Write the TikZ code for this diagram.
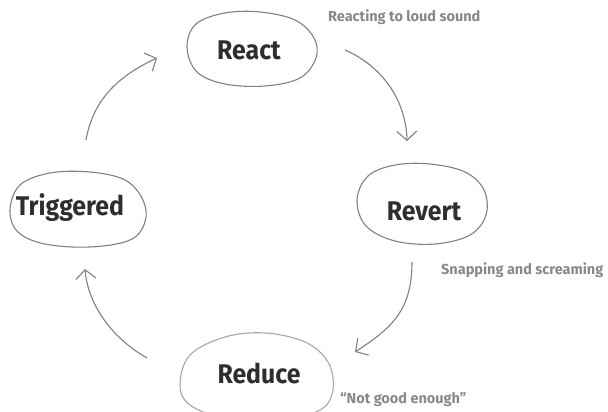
\documentclass[tikz,border=0pt]{standalone}
\usepackage{fontspec}
\usetikzlibrary{arrows.meta}
\newfontfamily\lblfont[FakeStretch=0.92]{Fira Sans}
\newfontfamily\notefont{Fira Sans}
\definecolor{ink}{HTML}{2E2E2E}
\definecolor{stroke}{HTML}{808080}
\definecolor{note}{HTML}{888888}
\tikzset{
  blob/.style={draw=stroke, line width=1.1pt},
  title/.style={font=\lblfont\bfseries\fontsize{27}{30}\selectfont, text=ink, inner sep=0pt},
  notelabel/.style={font=\notefont\bfseries\fontsize{14.5}{16}\selectfont, text=note, inner sep=0pt, anchor=west},
  arr/.style={draw=stroke, line width=1.1pt, -{Straight Barb[length=9pt,width=20pt,line width=1.1pt]}}
}
\begin{document}
\begin{tikzpicture}[x=1pt,y=-1pt]
\useasboundingbox (0,0) rectangle (608,412);
\clip (0,0) rectangle (608,412);
% outlines
\draw[blob] plot[smooth cycle, tension=0.6] coordinates {(187,47) (196,24) (225,13) (260,12) (295,20) (314,38) (316,58) (300,78) (265,86) (225,84) (197,72)};
\draw[blob] plot[smooth cycle, tension=0.6] coordinates {(357,200) (368,176) (395,165) (430,164) (465,172) (484,190) (486,215) (470,235) (435,244) (395,241) (366,226)};
\draw[blob] plot[smooth cycle, tension=0.6] coordinates {(10,210) (20,185) (50,173) (90,172) (125,180) (143,200) (145,222) (130,240) (90,247) (45,244) (18,232)};
\draw[blob, draw=stroke!70] plot[smooth cycle, tension=0.6] coordinates {(180,385) (190,355) (225,337) (265,333) (305,342) (328,362) (333,390) (320,410) (280,420) (225,418) (190,405)};
% titles
\node[title] (react) at (249,50) {React};
\node[title] (revert) at (424,211) {Revert};
\node[title] (trig) at (70,208) {Triggered};
\node[title] (reduce) at (259,373) {Reduce};
% notes
\node[notelabel] (n1) at (328,17) {Reacting to loud sound};
\node[notelabel] (n2) at (441,270) {Snapping and screaming};
\node[notelabel] (n3) at (340,400) {“Not good enough”};
% arrow endpoints
\coordinate (a1) at (345,50);  \coordinate (b1) at (407,141);
\coordinate (a2) at (412,262); \coordinate (b2) at (355,352);
\coordinate (a3) at (147,358); \coordinate (b3) at (85,269);
\coordinate (a4) at (86,140);  \coordinate (b4) at (157,58);
\draw[arr] (a1) .. controls (382,66) and (406,100) .. (b1);
\draw[arr] (a2) .. controls (412,310) and (392,328) .. (b2);
\draw[arr] (a3) .. controls (112,338) and (88,305) .. (b3);
\draw[arr] (a4) .. controls (93,100) and (118,76) .. (b4);
\end{tikzpicture}
\end{document}
